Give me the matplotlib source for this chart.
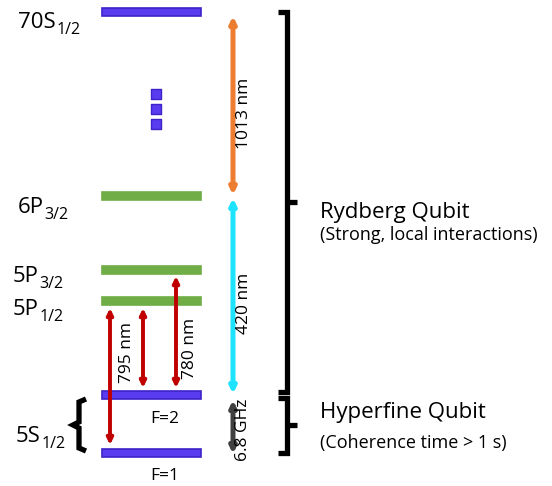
import matplotlib.pyplot as plt
from matplotlib.patches import FancyArrowPatch

plt.rcParams['font.family'] = ['Open Sans', 'DejaVu Sans']

# energy levels (pixel rows of the original drawing)
level_y = [12, 196, 270, 301, 395, 453]
level_colors = ['#5a3cf0', '#70ad47', '#70ad47', '#70ad47', '#5a3cf0', '#5a3cf0']
level_edges = ['#3f22c8', '#70ad47', '#70ad47', '#70ad47', '#3f22c8', '#3f22c8']

# state labels on the left (main part + subscript)
state_main = ['70S', '6P', '5P', '5P', '5S']
state_sub = ['1/2', '3/2', '3/2', '1/2', '1/2']
state_label_x = [18, 18, 13, 13, 16]
state_label_y = [28, 213, 282, 315, 442]

# transitions: x, start, end, label, colour
trans_x = [233, 233, 233, 110, 143, 176]
trans_y0 = [16, 198, 400, 308, 308, 276]
trans_y1 = [195, 394, 454, 445, 388, 388]
trans_labels = ['1013 nm', '420 nm', '6.8 GHz', '', '795 nm', '780 nm']
trans_label_x = [244, 244, 243, 0, 127, 190]
trans_label_y = [113, 303, 430, 0, 352, 348]
trans_colors = ['#ed7d31', '#1ee3ff', '#404040', '#c00000', '#c00000', '#c00000']
trans_lw = [3.6, 3.6, 3.6, 2.8, 2.8, 2.8]

fig = plt.figure(figsize=(5.52, 4.86), dpi=100)
ax = fig.add_axes([0, 0, 1, 1])
ax.set_xlim(0, 552)
ax.set_ylim(486, 0)
ax.axis('off')

ax.barh(level_y, 99, left=102, height=8, color=level_colors,
        edgecolor=level_edges, linewidth=1.2, zorder=2)

# the dots between 6P and 70S
ax.scatter([156, 156, 156], [94, 109, 124], marker='s', s=45,
           color='#5a3cf0', edgecolors='#3f22c8', linewidths=1, zorder=2)

for m, s, x, y in zip(state_main, state_sub, state_label_x, state_label_y):
    t = ax.text(x, y, m, fontsize=16, va='baseline', ha='left')
    ax.annotate(s, xy=(1, 0), xycoords=t, xytext=(0.5, -0.5),
                textcoords='offset points', fontsize=11.5, va='baseline', ha='left')

ax.text(165, 419, 'F=2', fontsize=12.5, ha='center', va='center')
ax.text(165, 476, 'F=1', fontsize=12.5, ha='center', va='center')

for i in range(len(trans_x)):
    arr = FancyArrowPatch((trans_x[i], trans_y0[i]), (trans_x[i], trans_y1[i]),
                          arrowstyle='<|-|>,head_length=0.35,head_width=0.17',
                          mutation_scale=10, lw=trans_lw[i],
                          color=trans_colors[i], shrinkA=0, shrinkB=0, zorder=3)
    ax.add_patch(arr)
    if trans_labels[i]:
        ax.text(trans_label_x[i], trans_label_y[i], trans_labels[i], fontsize=12.5,
                rotation=90, ha='center', va='center', zorder=4)

# brackets on the right
def bracket(top, bot, mid):
    ax.plot([278, 287, 287, 278], [top, top, bot, bot], color='black', lw=3.8,
            solid_joinstyle='miter', solid_capstyle='butt')
    ax.plot([287, 297], [mid, mid], color='black', lw=3.8, solid_capstyle='butt')

bracket(12, 392, 202)
bracket(398, 453, 425)

# brace on the left of 5S
ax.plot([86, 79, 79, 73, 79, 79, 86], [399, 402, 422, 425, 428, 448, 451],
        color='black', lw=3.8, solid_joinstyle='miter', solid_capstyle='butt')

ax.text(320, 212, 'Rydberg Qubit', fontsize=16, va='center')
ax.text(320, 235, '(Strong, local interactions)', fontsize=13, va='center')
ax.text(320, 412, 'Hyperfine Qubit', fontsize=16, va='center')
ax.text(320, 443, '(Coherence time > 1 s)', fontsize=13, va='center')

fig.savefig('out.png', dpi=100)
